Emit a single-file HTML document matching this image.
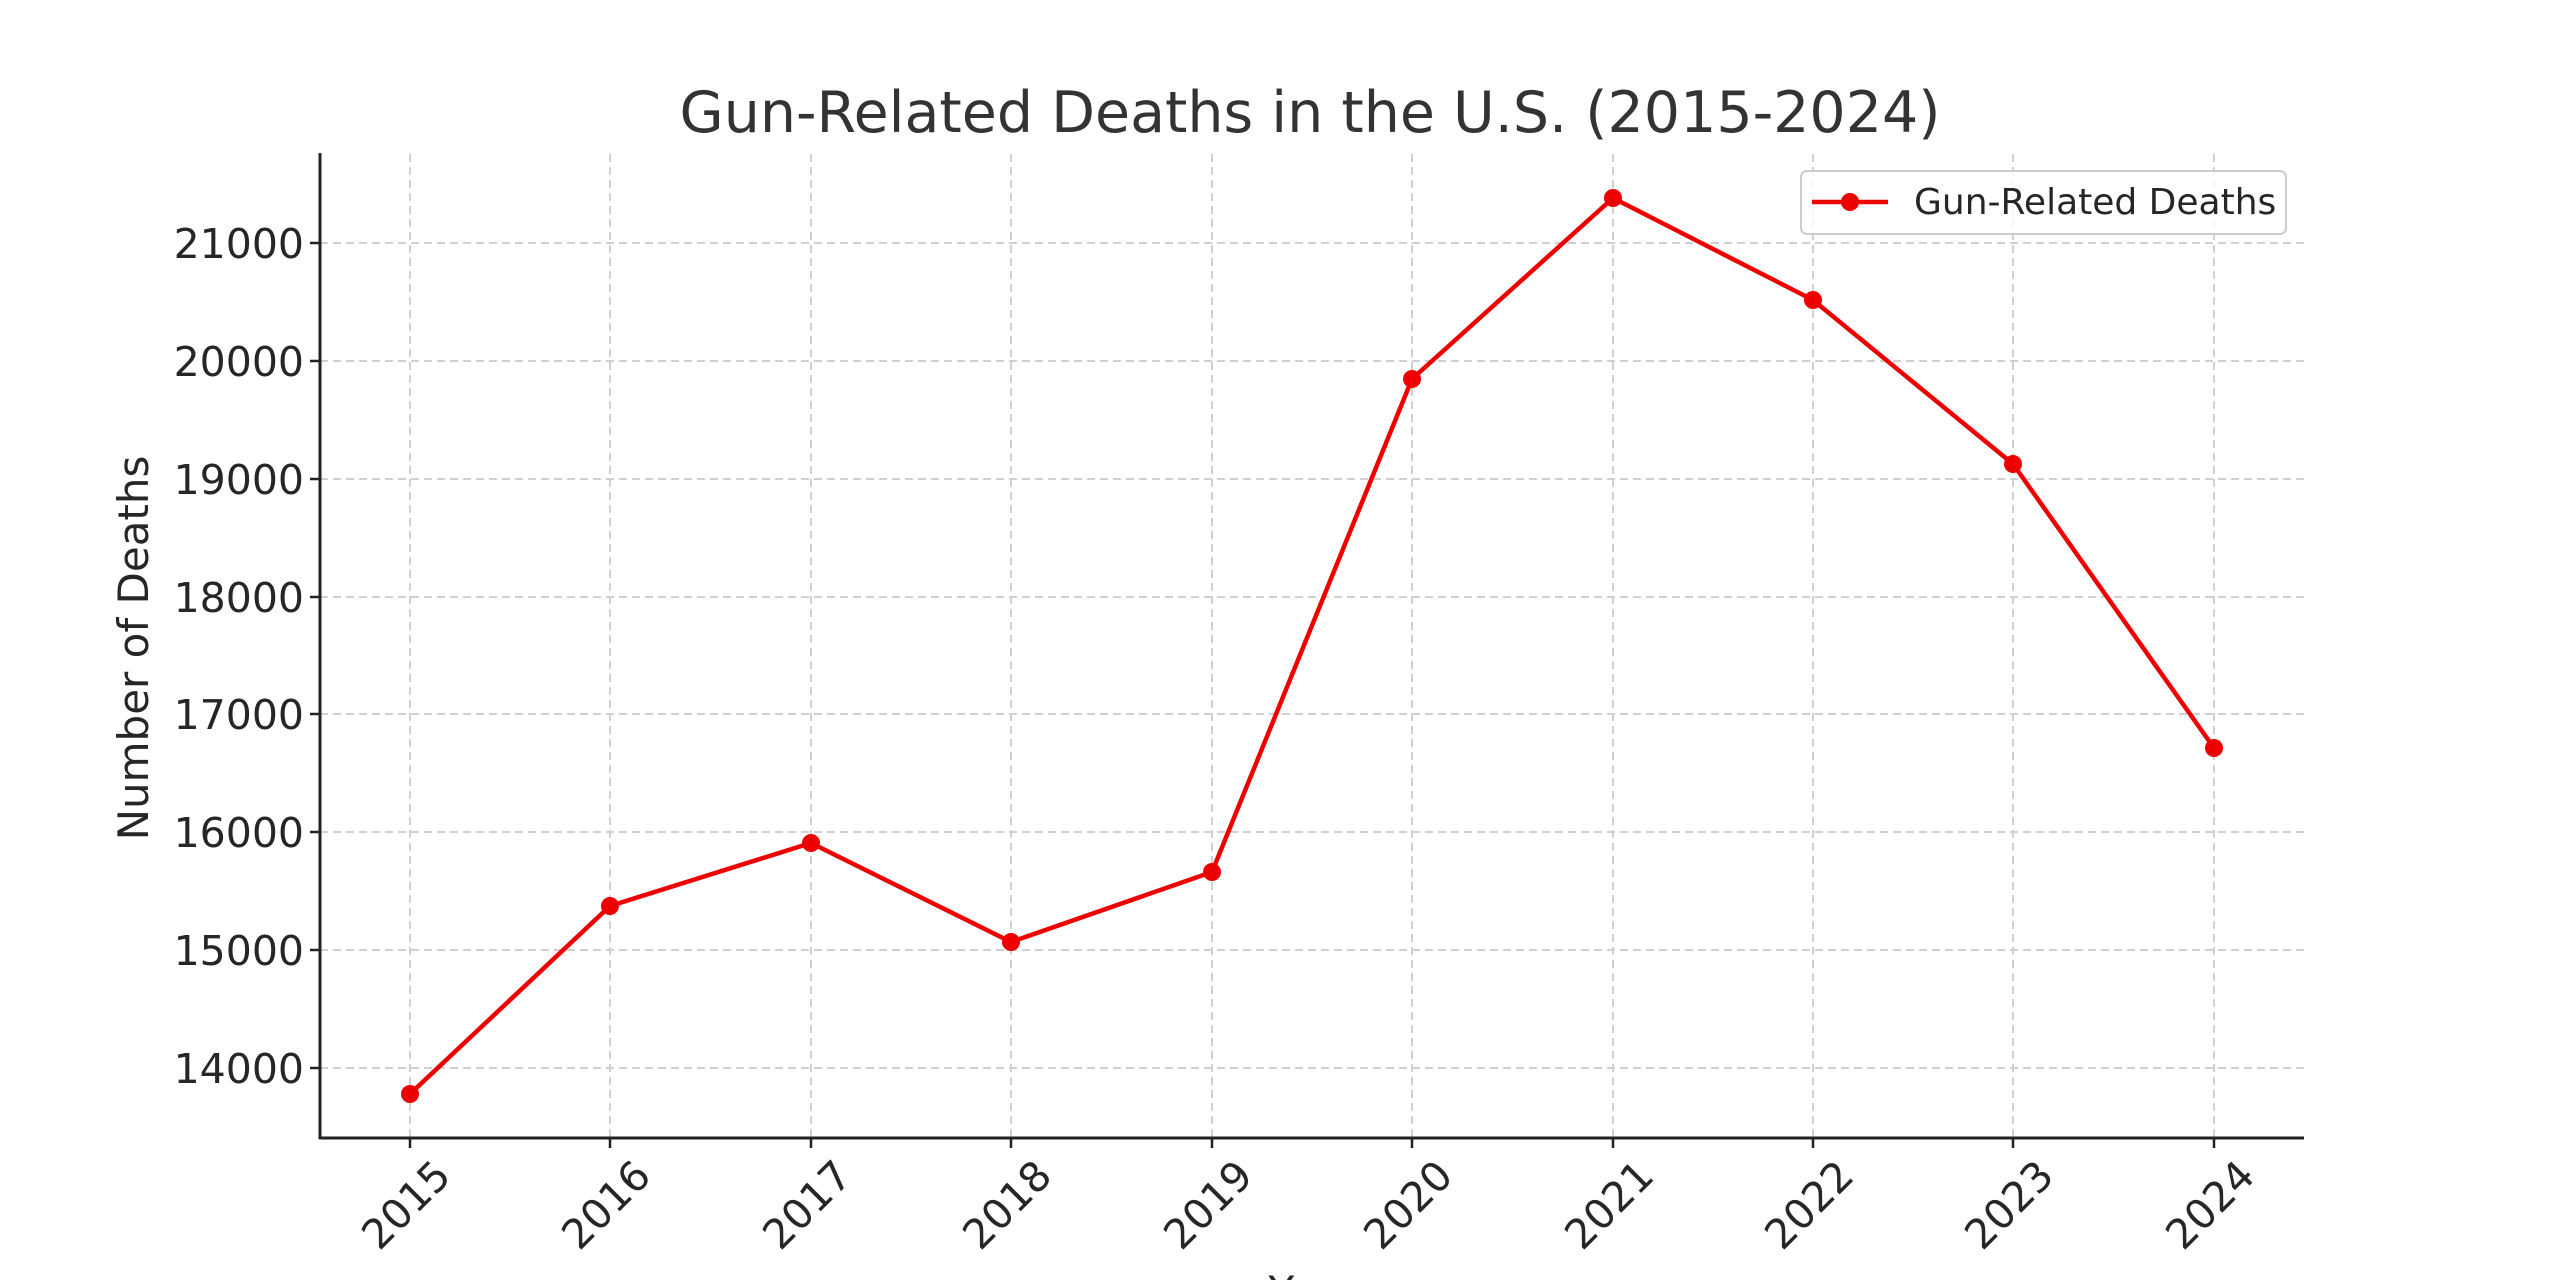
<!DOCTYPE html>
<html><head><meta charset="utf-8"><style>
html,body{margin:0;padding:0;background:#fff}
svg text{font-family:"DejaVu Sans","Liberation Sans",sans-serif;fill:#262626}
</style></head><body>
<svg width="2560" height="1280" viewBox="0 0 2560 1280" xmlns="http://www.w3.org/2000/svg">
<rect width="2560" height="1280" fill="#fff"/>
<g stroke="#d0d0d0" stroke-width="2" stroke-dasharray="8,5">
<line x1="410" y1="154" x2="410" y2="1138"/><line x1="610" y1="154" x2="610" y2="1138"/>
<line x1="811" y1="154" x2="811" y2="1138"/><line x1="1011" y1="154" x2="1011" y2="1138"/>
<line x1="1212" y1="154" x2="1212" y2="1138"/><line x1="1412" y1="154" x2="1412" y2="1138"/>
<line x1="1613" y1="154" x2="1613" y2="1138"/><line x1="1813" y1="154" x2="1813" y2="1138"/>
<line x1="2013" y1="154" x2="2013" y2="1138"/><line x1="2214" y1="154" x2="2214" y2="1138"/>
<line x1="320" y1="243" x2="2304" y2="243"/><line x1="320" y1="361" x2="2304" y2="361"/>
<line x1="320" y1="479" x2="2304" y2="479"/><line x1="320" y1="597" x2="2304" y2="597"/>
<line x1="320" y1="714" x2="2304" y2="714"/><line x1="320" y1="832" x2="2304" y2="832"/>
<line x1="320" y1="950" x2="2304" y2="950"/><line x1="320" y1="1068" x2="2304" y2="1068"/>
</g>
<g stroke="#222" stroke-width="3">
<line x1="320" y1="153" x2="320" y2="1139"/><line x1="319" y1="1138" x2="2304" y2="1138"/>
<g stroke-width="2.5">
<line x1="310" y1="243" x2="320" y2="243"/><line x1="310" y1="361" x2="320" y2="361"/>
<line x1="310" y1="479" x2="320" y2="479"/><line x1="310" y1="597" x2="320" y2="597"/>
<line x1="310" y1="714" x2="320" y2="714"/><line x1="310" y1="832" x2="320" y2="832"/>
<line x1="310" y1="950" x2="320" y2="950"/><line x1="310" y1="1068" x2="320" y2="1068"/>
<line x1="410" y1="1138" x2="410" y2="1148"/><line x1="610" y1="1138" x2="610" y2="1148"/>
<line x1="811" y1="1138" x2="811" y2="1148"/><line x1="1011" y1="1138" x2="1011" y2="1148"/>
<line x1="1212" y1="1138" x2="1212" y2="1148"/><line x1="1412" y1="1138" x2="1412" y2="1148"/>
<line x1="1613" y1="1138" x2="1613" y2="1148"/><line x1="1813" y1="1138" x2="1813" y2="1148"/>
<line x1="2013" y1="1138" x2="2013" y2="1148"/><line x1="2214" y1="1138" x2="2214" y2="1148"/>
</g></g>
<g font-size="41" text-anchor="end">
<text x="304" y="258">21000</text><text x="304" y="376">20000</text>
<text x="304" y="494">19000</text><text x="304" y="612">18000</text>
<text x="304" y="729">17000</text><text x="304" y="847">16000</text>
<text x="304" y="965">15000</text><text x="304" y="1083">14000</text>
</g>
<g font-size="41" text-anchor="end">
<text transform="translate(453,1178) rotate(-45)">2015</text>
<text transform="translate(653,1178) rotate(-45)">2016</text>
<text transform="translate(854,1178) rotate(-45)">2017</text>
<text transform="translate(1054,1178) rotate(-45)">2018</text>
<text transform="translate(1255,1178) rotate(-45)">2019</text>
<text transform="translate(1455,1178) rotate(-45)">2020</text>
<text transform="translate(1656,1178) rotate(-45)">2021</text>
<text transform="translate(1856,1178) rotate(-45)">2022</text>
<text transform="translate(2056,1178) rotate(-45)">2023</text>
<text transform="translate(2257,1178) rotate(-45)">2024</text>
</g>
<text x="1310" y="132" font-size="57" text-anchor="middle" style="fill:#333">Gun-Related Deaths in the U.S. (2015-2024)</text>
<text transform="translate(148,648) rotate(-90)" font-size="42" text-anchor="middle">Number of Deaths</text>
<text x="1313" y="1306" font-size="42" text-anchor="middle">Year</text>
<polyline fill="none" stroke="#ee0000" stroke-width="4.5" stroke-linejoin="round" points="410,1094 610,906 811,843 1011,942 1212,872 1412,379 1613,198 1813,300 2013,464 2214,748"/>
<g fill="#ee0000">
<circle cx="410" cy="1094" r="9"/><circle cx="610" cy="906" r="9"/><circle cx="811" cy="843" r="9"/>
<circle cx="1011" cy="942" r="9"/><circle cx="1212" cy="872" r="9"/><circle cx="1412" cy="379" r="9"/>
<circle cx="1613" cy="198" r="9"/><circle cx="1813" cy="300" r="9"/><circle cx="2013" cy="464" r="9"/>
<circle cx="2214" cy="748" r="9"/>
</g>
<rect x="1801" y="171" width="485" height="63" rx="6" fill="#fff" fill-opacity="0.8" stroke="#ccc" stroke-width="2"/>
<line x1="1812" y1="202" x2="1888" y2="202" stroke="#ee0000" stroke-width="4.5"/>
<circle cx="1850" cy="202" r="9" fill="#ee0000"/>
<text x="1914" y="214" font-size="36">Gun-Related Deaths</text>
</svg>
</body></html>
